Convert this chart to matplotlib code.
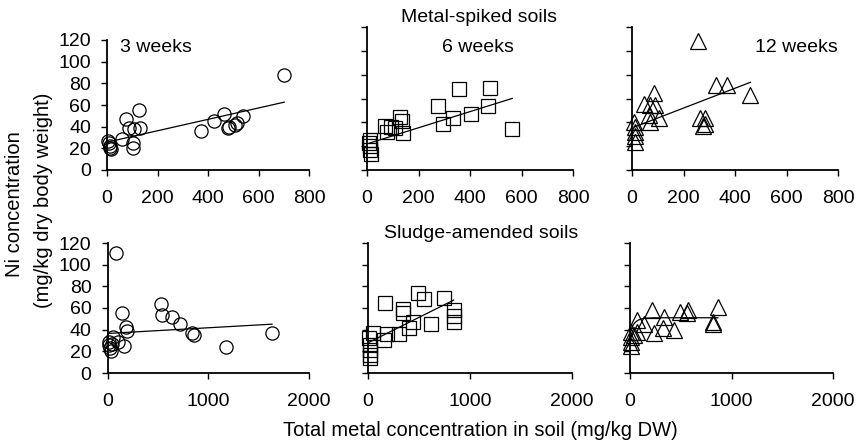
import numpy as np
import matplotlib.pyplot as plt

plt.rcParams["font.family"] = ["Liberation Sans", "DejaVu Sans"]
plt.rcParams["font.size"] = 14

# Metal-spiked soils (Ni in worms vs. total metal in soil)
spiked_3w_x = [5, 8, 10, 12, 15, 58, 75, 88, 104, 104, 106, 128, 131,
               372, 424, 465, 480, 485, 505, 513, 540, 702]
spiked_3w_y = [27, 25, 22, 20, 19, 29, 47, 38.5, 25, 20.5, 38, 55, 39,
               36, 45.5, 51.5, 38.5, 40, 42, 43, 50, 88]
spiked_3w_fit = [0.0526, 25.7]          # slope, intercept

spiked_6w_x = [8, 10, 12, 12, 14, 70, 76, 93, 109, 128, 135, 141,
               277, 294, 335, 359, 404, 469, 478, 564]
spiked_6w_y = [23, 25, 20.5, 16.5, 13.5, 37, 32, 36.5, 35, 44.5, 41.5, 31,
               54, 39, 44, 68, 47, 54, 69, 34.5]
spiked_6w_fit = [0.0677, 21.9]

spiked_12w_x = [8, 10, 10, 12, 12, 46, 67, 70, 70, 85, 89, 106,
                257, 264, 275, 283, 283, 328, 367, 460]
spiked_12w_y = [40.5, 36.5, 32, 28.5, 23.5, 55.5, 46, 54.5, 40.5, 65, 54.5, 44,
                108, 43.5, 37, 44, 39, 71.5, 71.5, 63]
spiked_12w_fit = [0.0833, 35.3]

# Sludge-amended soils
sludge_3w_x = [10, 15, 20, 30, 40, 56, 105, 139, 165, 188, 198, 82,
               535, 542, 645, 717, 840, 860, 1180, 1633]
sludge_3w_y = [29, 26, 23, 20, 27, 33.5, 29, 55.5, 25, 42.5, 39, 111,
               63.5, 53.5, 51.5, 45, 37, 35.5, 24, 36.5]
sludge_3w_fit = [0.00525, 36.5]

sludge_6w_x = [12, 15, 15, 18, 20, 45, 153, 170, 186, 300, 340, 340,
               405, 441, 490, 545, 620, 741, 840, 840, 840]
sludge_6w_y = [32, 26, 21, 16.5, 13.5, 36.5, 30.5, 65, 36, 36, 59.5, 55,
               42, 47.5, 74, 68, 45, 69.5, 58, 52.5, 47.5]
sludge_6w_fit = [0.0469, 27.9]

sludge_12w_x = [8, 10, 12, 12, 40, 66, 72, 138, 214, 240, 329, 339,
                438, 494, 560, 576, 816, 816, 866]
sludge_12w_y = [38, 33.5, 29, 24.5, 35, 49, 38, 45, 58, 37, 42, 51.5,
                39.5, 56.5, 55.5, 58, 47.5, 45, 60.5]
sludge_12w_fit = [51.0, 13.4, 45.0]     # plateau, rise, scale

y_ticks = [0, 20, 40, 60, 80, 100, 120]
fig = plt.figure(figsize=(8.58, 4.45), dpi=100)
W, H = 858, 445


def linear(xs, p):
    return p[0] * xs + p[1]


def saturating(xs, p):
    return p[0] - p[1] * np.exp(-xs / p[2])


def add_panel(left, right, top, bottom, xmax, xstep, show_y):
    # panel box given in pixels from the top-left corner
    ax = fig.add_axes([left / W, (H - bottom) / H, (right - left) / W, (bottom - top) / H])
    ax.set_xlim(0, xmax)
    ax.set_ylim(0, 120)
    ax.set_xticks(np.arange(0, xmax + 1, xstep))
    ax.set_yticks(y_ticks)
    if not show_y:
        ax.set_yticklabels([])
    for side in ("top", "right"):
        ax.spines[side].set_visible(False)
    for side in ("left", "bottom"):
        ax.spines[side].set_linewidth(1.3)
    ax.tick_params(axis="both", direction="out", length=4.5, width=1.0, labelsize=14)
    ax.tick_params(axis="x", pad=10)
    ax.tick_params(axis="y", pad=7)
    ax.patch.set_visible(False)
    return ax


def draw(ax, x, y, fit, trend, marker, ms):
    ax.plot(x, y, linestyle="none", marker=marker, ms=ms, mfc="none",
            mec="black", mew=0.9, clip_on=False)
    xs = np.linspace(min(x), max(x), 200)
    ax.plot(xs, trend(xs, fit), color="black", lw=0.9, clip_on=False)


ax1 = add_panel(107, 309, 40, 170, 800, 200, True)
ax2 = add_panel(367, 573, 27, 170, 800, 200, False)
ax3 = add_panel(632, 838, 27, 170, 800, 200, False)
ax4 = add_panel(107.5, 309, 243, 373, 2000, 1000, True)
ax5 = add_panel(368, 572, 243, 373, 2000, 1000, False)
ax6 = add_panel(630, 833, 243, 373, 2000, 1000, False)

draw(ax1, spiked_3w_x, spiked_3w_y, spiked_3w_fit, linear, "o", 9.5)
draw(ax2, spiked_6w_x, spiked_6w_y, spiked_6w_fit, linear, "s", 10.3)
draw(ax3, spiked_12w_x, spiked_12w_y, spiked_12w_fit, linear, "^", 11.5)
draw(ax4, sludge_3w_x, sludge_3w_y, sludge_3w_fit, linear, "o", 9.5)
draw(ax5, sludge_6w_x, sludge_6w_y, sludge_6w_fit, linear, "s", 10.3)
draw(ax6, sludge_12w_x, sludge_12w_y, sludge_12w_fit, saturating, "^", 11.5)

# panel captions
fig.text(120 / W, 1 - 48 / H, "3 weeks", ha="left", va="center", fontsize=14)
fig.text(478 / W, 1 - 48 / H, "6 weeks", ha="center", va="center", fontsize=14)
fig.text(838 / W, 1 - 48 / H, "12 weeks", ha="right", va="center", fontsize=14)
fig.text(479 / W, 1 - 18 / H, "Metal-spiked soils", ha="center", va="center", fontsize=14)
fig.text(481 / W, 1 - 233 / H, "Sludge-amended soils", ha="center", va="center", fontsize=14)

fig.text(480 / W, 1 - 430 / H, "Total metal concentration in soil (mg/kg DW)",
         ha="center", va="center", fontsize=14.5)
fig.text(15 / W, 1 - 204 / H, "Ni concentration", rotation=90,
         ha="center", va="center", fontsize=14.5)
fig.text(44 / W, 1 - 200 / H, "(mg/kg dry body weight)", rotation=90,
         ha="center", va="center", fontsize=14.5)

fig.savefig("out.png", dpi=100)
